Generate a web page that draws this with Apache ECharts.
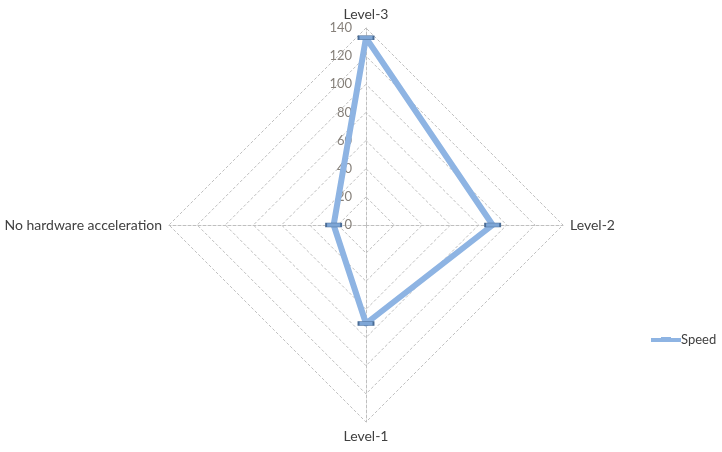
<!DOCTYPE html>
<html><head><meta charset="utf-8">
<script src="https://cdn.jsdelivr.net/npm/echarts@6/dist/echarts.min.js"></script>
<style>html,body{margin:0;padding:0;background:#fff}#c{width:722px;height:452px}</style>
</head><body><div id="c"></div>
<script>
// Display order (ECharts places indicators counter-clockwise from top)
var categories = ['Level-3', 'No hardware acceleration', 'Level-1', 'Level-2'];
var speed = [133, 23, 70, 90];
var seriesName = 'Speed';
var axisMax = 140;

var chart = echarts.init(document.getElementById('c'));
var font = 'Lato, "Open Sans", sans-serif';
chart.setOption({
  animation: false,
  legend: {
    left: 646, top: 328, orient: 'vertical', padding: 5,
    itemWidth: 30, itemHeight: 6, itemGap: 4,
    itemStyle: { color: '#8eb4e3', borderWidth: 0 },
    textStyle: { fontFamily: font, fontSize: 13, color: '#404040', padding: [0,0,0,-5] },
    data: [{ name: seriesName, icon: 'path://M0,1 L30,1 L30,5 L0,5 Z M10,0 L20,0 L20,2 L10,2 Z' }]
  },
  radar: {
    center: [366, 225], radius: 197, startAngle: 90,
    shape: 'polygon', splitNumber: 7,
    nameGap: 7,
    axisName: { color: '#404040', fontFamily: font, fontSize: 14 },
    splitLine: { lineStyle: { color: '#bfbfbf', type: [3, 2], width: 1 } },
    splitArea: { show: false },
    axisLine: { lineStyle: { color: '#bfbfbf', type: [3, 2], width: 1 } },
    axisLabel: { show: false },
    indicator: categories.map(function (c, i) {
      var o = { name: c, min: 0, max: axisMax };
      if (i === 0) o.axisLabel = { show: true, color: '#86807a', fontFamily: font, fontSize: 13, margin: 14, showMaxLabel: true };
      return o;
    })
  },
  series: [{
    type: 'radar', name: seriesName,
    symbol: 'rect', symbolSize: [15, 4],
    lineStyle: { color: '#8eb4e3', width: 6 },
    itemStyle: { color: '#7ea6d6', borderColor: '#4a6c96', borderWidth: 1 },
    data: [{ name: seriesName, value: speed }]
  }]
});
</script></body></html>
